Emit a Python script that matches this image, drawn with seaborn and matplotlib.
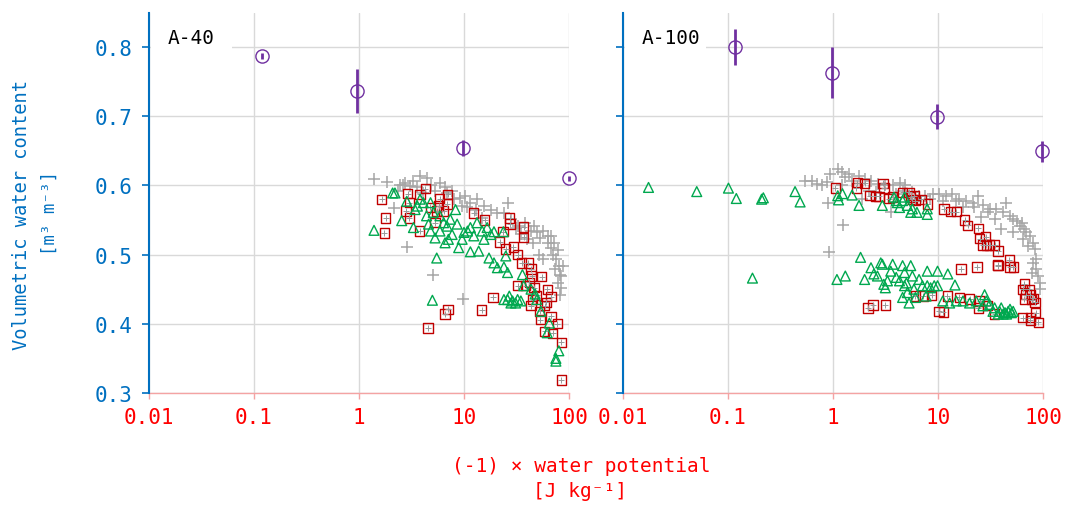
import matplotlib
matplotlib.use("Agg")
import matplotlib.pyplot as plt
from matplotlib.patches import Rectangle
import seaborn as sns
import pandas as pd

# ---------------- data ----------------
# A-40 panel
a40_gray_x = [1.39, 1.83, 2.17, 2.89, 5.06, 9.7, 2.45, 2.74, 3.06, 3.82, 4.4, 3.55, 4.1, 5.95, 5.3, 6.9, 8.0, 9.2,
              10.3, 9.6, 11.5, 13.3, 15.5, 18, 20.8, 26, 24, 28, 32.4, 38, 43.5, 50, 53, 63, 67, 79, 70, 57, 75,
              80, 82, 79, 84, 82, 52, 45, 63, 40, 35, 31, 46, 57, 67, 72, 14.9, 12.9, 10.7, 7.7, 6.6, 4.8, 3.3,
              2.6, 2.35, 84, 87, 73]
a40_gray_y = [0.609, 0.605, 0.567, 0.511, 0.471, 0.436, 0.601, 0.604, 0.599, 0.613, 0.611, 0.597, 0.589, 0.604,
              0.592, 0.589, 0.580, 0.582, 0.585, 0.570, 0.575, 0.580, 0.570, 0.565, 0.560, 0.575, 0.560, 0.551,
              0.541, 0.546, 0.534, 0.532, 0.524, 0.517, 0.510, 0.507, 0.500, 0.493, 0.493, 0.483, 0.471, 0.459,
              0.452, 0.442, 0.500, 0.517, 0.527, 0.522, 0.529, 0.539, 0.541, 0.534, 0.527, 0.517, 0.553, 0.565,
              0.568, 0.592, 0.597, 0.601, 0.606, 0.601, 0.592, 0.469, 0.483, 0.479]

a40_red_x = [1.64, 1.79, 1.74, 2.91, 3.02, 2.8, 3.02, 3.77, 4.27, 3.82, 5.86, 7.0, 5.75, 6.9, 6.4, 5.5, 4.77, 5.3,
             12.4, 15.7, 27.3, 27.5, 23.6, 21.9, 25, 29.6, 37, 37, 32.4, 35.3, 41, 43.5, 44, 42, 55, 32.4, 38.7,
             46.5, 49.4, 62, 67.6, 60.6, 52.5, 53.5, 67.6, 77.3, 58.5, 70, 84.4, 84.4, 18.9, 14.7, 7.05, 6.6,
             4.53, 45, 43.5, 58.5]
a40_red_y = [0.580, 0.553, 0.531, 0.588, 0.575, 0.563, 0.553, 0.534, 0.595, 0.587, 0.581, 0.587, 0.570, 0.573,
             0.563, 0.563, 0.568, 0.546, 0.560, 0.550, 0.553, 0.544, 0.533, 0.518, 0.508, 0.511, 0.540, 0.525,
             0.500, 0.488, 0.488, 0.479, 0.469, 0.460, 0.468, 0.455, 0.455, 0.452, 0.441, 0.450, 0.439, 0.431,
             0.418, 0.406, 0.411, 0.400, 0.389, 0.386, 0.373, 0.319, 0.438, 0.420, 0.421, 0.414, 0.394, 0.435,
             0.426, 0.426]

a40_green_x = [1.39, 2.09, 2.55, 3.3, 2.85, 3.82, 3.42, 4.6, 5.5, 5.0, 6.6, 5.3, 6.9, 8.3, 8.6, 8.9, 10, 11.5,
               13.3, 11.5, 13.8, 14.9, 16.6, 18, 19.3, 23.7, 17.3, 19.3, 20.8, 25, 24, 26, 24, 26, 29, 32.4, 28,
               31, 34.8, 27, 36, 37, 43.5, 47.6, 49.4, 54, 65, 62, 80, 75, 75, 4.4, 4.8, 5.1, 5.9, 6.4, 7.4, 7.7,
               5.9, 4.8, 4.1, 3.6, 7.1, 9.6, 10.8, 12.4, 15.5, 2.2]
a40_green_y = [0.535, 0.589, 0.549, 0.539, 0.577, 0.580, 0.565, 0.544, 0.495, 0.434, 0.517, 0.524, 0.541, 0.565,
               0.544, 0.510, 0.532, 0.539, 0.546, 0.504, 0.505, 0.534, 0.539, 0.529, 0.533, 0.533, 0.495, 0.488,
               0.481, 0.498, 0.482, 0.474, 0.435, 0.435, 0.433, 0.435, 0.430, 0.430, 0.433, 0.440, 0.471, 0.455,
               0.450, 0.443, 0.435, 0.418, 0.401, 0.387, 0.361, 0.346, 0.350, 0.556, 0.575, 0.561, 0.556, 0.546,
               0.551, 0.529, 0.534, 0.534, 0.575, 0.570, 0.522, 0.522, 0.534, 0.527, 0.522, 0.589]

a40_mean_x = [0.119, 0.967, 9.75, 99]
a40_mean_y = [0.787, 0.736, 0.654, 0.610]
a40_mean_err = [0.004, 0.032, 0.012, 0.004]

# A-100 panel
a100_gray_x = [0.54, 0.63, 0.70, 0.79, 0.88, 0.94, 1.11, 1.22, 1.31, 1.41, 1.52, 1.77, 2.0, 2.3, 2.7, 3.1, 3.7,
               4.3, 4.9, 5.7, 6.6, 7.6, 8.9, 10.3, 12, 13.7, 16, 18.5, 21.5, 24.2, 26.8, 31, 36, 41.6, 48, 56,
               62.7, 66.5, 74.7, 80.6, 83.6, 80.6, 86.6, 90, 93.2, 94.5, 78, 69, 61, 51.6, 44.5, 34.6, 30, 25.9,
               22.2, 17.2, 15, 11.1, 8.3, 6.1, 4.6, 4.0, 2.55, 2.2, 1.9, 1.22, 0.9, 3.6, 40, 51.6, 64, 71.5,
               86.6, 1.24, 0.91]
a100_gray_y = [0.607, 0.607, 0.602, 0.600, 0.605, 0.617, 0.624, 0.619, 0.612, 0.617, 0.607, 0.614, 0.609, 0.607,
               0.602, 0.600, 0.600, 0.604, 0.600, 0.590, 0.585, 0.585, 0.587, 0.587, 0.585, 0.587, 0.580, 0.578,
               0.575, 0.585, 0.571, 0.566, 0.566, 0.561, 0.556, 0.549, 0.546, 0.537, 0.527, 0.517, 0.508, 0.488,
               0.479, 0.469, 0.459, 0.450, 0.474, 0.532, 0.541, 0.551, 0.575, 0.551, 0.561, 0.554, 0.568, 0.568,
               0.578, 0.578, 0.580, 0.583, 0.592, 0.587, 0.590, 0.592, 0.580, 0.600, 0.574, 0.561, 0.537, 0.532,
               0.522, 0.512, 0.493, 0.542, 0.504]

a100_red_x = [2.16, 2.4, 3.15, 1.05, 1.67, 1.7, 2.0, 2.99, 3.05, 2.25, 2.55, 2.75, 3.4, 3.7, 4.6, 5.3, 5.5, 5.7,
              6.1, 6.9, 7.9, 5.9, 11.4, 13.2, 14.9, 18, 19.2, 24.2, 25, 28.5, 26.8, 28.8, 31, 34.6, 37.4, 16.6,
              23.5, 37, 37.4, 47.8, 48.5, 52, 66.5, 64, 69, 66.5, 76, 78, 84, 81, 74, 64, 76, 76, 85, 90, 10.2,
              11.2, 7.2, 8.7, 12.3, 16, 20, 24.2, 34.6, 25, 29.6, 6.1]
a100_red_y = [0.423, 0.427, 0.427, 0.596, 0.596, 0.604, 0.603, 0.603, 0.596, 0.585, 0.584, 0.584, 0.581, 0.583,
              0.590, 0.590, 0.583, 0.580, 0.578, 0.580, 0.573, 0.585, 0.566, 0.562, 0.562, 0.550, 0.542, 0.538,
              0.523, 0.526, 0.514, 0.514, 0.514, 0.514, 0.505, 0.479, 0.482, 0.485, 0.484, 0.492, 0.482, 0.482,
              0.458, 0.450, 0.442, 0.436, 0.442, 0.435, 0.431, 0.437, 0.450, 0.409, 0.409, 0.405, 0.416, 0.402,
              0.418, 0.417, 0.440, 0.441, 0.440, 0.438, 0.436, 0.423, 0.414, 0.433, 0.426, 0.440]

a100_green_x = [0.0175, 0.0504, 0.101, 0.120, 0.209, 0.217, 0.435, 0.486, 0.171, 1.09, 1.31, 1.83, 2.0, 1.11,
                1.23, 1.52, 1.77, 1.13, 2.95, 3.8, 4.1, 4.6, 5.1, 5.7, 6.3, 7.9, 7.9, 4.3, 4.8, 4.0, 5.5, 2.3,
                2.45, 2.65, 2.85, 2.95, 3.05, 3.15, 3.3, 3.55, 3.7, 4.0, 4.3, 4.6, 4.8, 5.0, 5.1, 5.5, 5.7, 5.9,
                6.1, 5.3, 6.6, 7.1, 7.9, 8.5, 9.2, 9.9, 7.9, 9.9, 12.4, 14.5, 4.6, 4.8, 7.7, 11.1, 12.9, 14.9,
                17.3, 20, 27.8, 28.8, 31, 34.6, 38.6, 40, 43.5, 46.6, 50, 45, 41.7, 48.5, 52, 37.4, 33.4, 26.8,
                23.1]
a100_green_y = [0.597, 0.591, 0.596, 0.581, 0.580, 0.582, 0.591, 0.576, 0.466, 0.464, 0.469, 0.496, 0.464, 0.585,
                0.588, 0.586, 0.571, 0.579, 0.571, 0.583, 0.575, 0.578, 0.571, 0.566, 0.561, 0.558, 0.566, 0.568,
                0.583, 0.578, 0.561, 0.481, 0.472, 0.469, 0.488, 0.486, 0.457, 0.452, 0.462, 0.476, 0.486, 0.467,
                0.462, 0.484, 0.474, 0.459, 0.445, 0.484, 0.469, 0.450, 0.438, 0.430, 0.464, 0.455, 0.455, 0.452,
                0.455, 0.455, 0.476, 0.476, 0.472, 0.456, 0.438, 0.455, 0.440, 0.433, 0.430, 0.433, 0.433, 0.430,
                0.442, 0.433, 0.428, 0.423, 0.418, 0.423, 0.416, 0.418, 0.416, 0.414, 0.414, 0.421, 0.418, 0.414,
                0.418, 0.426, 0.433]

a100_mean_x = [0.117, 0.971, 9.78, 97]
a100_mean_y = [0.800, 0.763, 0.699, 0.649]
a100_mean_err = [0.026, 0.037, 0.018, 0.015]

panel_labels = ["A-40", "A-100"]
x_ticks = [0.01, 0.1, 1, 10, 100]
x_tick_labels = ["0.01", "0.1", "1", "10", "100"]
y_ticks = [0.3, 0.4, 0.5, 0.6, 0.7, 0.8]
y_tick_labels = ["0.3", "0.4", "0.5", "0.6", "0.7", "0.8"]

# ---------------- style ----------------
sns.set_style("white")
FONT = ["DejaVu Sans Mono", "DejaVu Sans"]
plt.rcParams["font.family"] = FONT

BLUE = "#0070c0"
RED_TXT = "#ff0000"
PINK = "#f4a3a3"
GRAY = "#a6a6a6"
RED = "#c00000"
GREEN = "#00a84f"
PURPLE = "#7030a0"
GRID = "#d9d9d9"

fig = plt.figure(figsize=(10.73, 5.06), dpi=100)
W, H = 1073, 506
ax1 = fig.add_axes([149 / W, 1 - 394 / H, 420 / W, 380 / H])
ax2 = fig.add_axes([623 / W, 1 - 394 / H, 420 / W, 380 / H])

panels = [
    (ax1, a40_gray_x, a40_gray_y, a40_red_x, a40_red_y, a40_green_x, a40_green_y,
     a40_mean_x, a40_mean_y, a40_mean_err, panel_labels[0]),
    (ax2, a100_gray_x, a100_gray_y, a100_red_x, a100_red_y, a100_green_x, a100_green_y,
     a100_mean_x, a100_mean_y, a100_mean_err, panel_labels[1]),
]

for i, (ax, gx, gy, rx, ry, nx, ny, mx, my, me, lab) in enumerate(panels):
    gray_df = pd.DataFrame({"x": gx, "y": gy})
    red_df = pd.DataFrame({"x": rx, "y": ry})
    green_df = pd.DataFrame({"x": nx, "y": ny})

    sns.scatterplot(data=gray_df, x="x", y="y", ax=ax, marker="+", s=75,
                    color=GRAY, linewidth=1.1, zorder=3, clip_on=False)
    sns.scatterplot(data=red_df, x="x", y="y", ax=ax, marker="s", s=45,
                    facecolor="none", edgecolor=RED, linewidth=1.0, zorder=4, clip_on=False)
    sns.scatterplot(data=red_df, x="x", y="y", ax=ax, marker="+", s=22,
                    color="#999999", linewidth=0.7, zorder=4, clip_on=False)
    sns.scatterplot(data=green_df, x="x", y="y", ax=ax, marker="^", s=50,
                    facecolor="none", edgecolor=GREEN, linewidth=1.0, zorder=5, clip_on=False)
    eb = ax.errorbar(mx, my, yerr=me, fmt="o", markersize=9.5, markerfacecolor="none",
                     markeredgecolor=PURPLE, markeredgewidth=1.0, ecolor=PURPLE,
                     elinewidth=2.0, capsize=0, zorder=6)
    for art in eb.get_children():
        art.set_clip_on(False)

    ax.set_xscale("log")
    ax.set_xlim(0.01, 100)
    ax.set_ylim(0.3, 0.849)
    ax.set_xticks(x_ticks)
    ax.set_xticklabels(x_tick_labels)
    ax.xaxis.set_minor_locator(matplotlib.ticker.NullLocator())
    ax.set_yticks(y_ticks)
    if i == 0:
        ax.set_yticklabels(y_tick_labels)
    else:
        ax.set_yticklabels([])
    ax.set_xlabel("")
    ax.set_ylabel("")

    ax.grid(True, color=GRID, linewidth=1.0, zorder=0)
    ax.set_axisbelow(True)
    for s in ["top", "right"]:
        ax.spines[s].set_visible(False)
    ax.spines["left"].set_color(BLUE)
    ax.spines["left"].set_linewidth(1.5)
    ax.spines["left"].set_zorder(8)
    ax.spines["bottom"].set_color(PINK)
    ax.spines["bottom"].set_linewidth(1.0)

    ax.tick_params(axis="y", which="major", direction="out", length=5, width=1.2,
                   color=BLUE, labelcolor=BLUE, labelsize=15, pad=7, left=True)
    ax.tick_params(axis="x", which="major", direction="out", length=4, width=1.0,
                   color=PINK, labelcolor=RED_TXT, labelsize=15, pad=6, bottom=True)

    # white label box hiding the 0.8 gridline behind the panel label
    ax.add_patch(Rectangle((0.004, 1 - 56 / 380), 81 / 420, 34 / 380, transform=ax.transAxes,
                           facecolor="white", edgecolor="none", zorder=1.5))
    ax.text(19 / 420, 1 - 24 / 380, lab, transform=ax.transAxes, fontsize=14,
            color="black", ha="left", va="center", zorder=7)

fig.text(22 / W, 1 - 215 / H, "Volumetric water content", rotation=90,
         color=BLUE, fontsize=13.5, ha="center", va="center")
fig.text(50 / W, 1 - 213 / H, "[m³ m⁻³]", rotation=90,
         color=BLUE, fontsize=12.5, ha="center", va="center")
fig.text(581 / W, 1 - 467 / H, "(-1) × water potential", color=RED_TXT,
         fontsize=14, ha="center", va="center")
fig.text(580 / W, 1 - 492 / H, "[J kg⁻¹]", color=RED_TXT,
         fontsize=14, ha="center", va="center")

fig.savefig("out.png", dpi=100)
